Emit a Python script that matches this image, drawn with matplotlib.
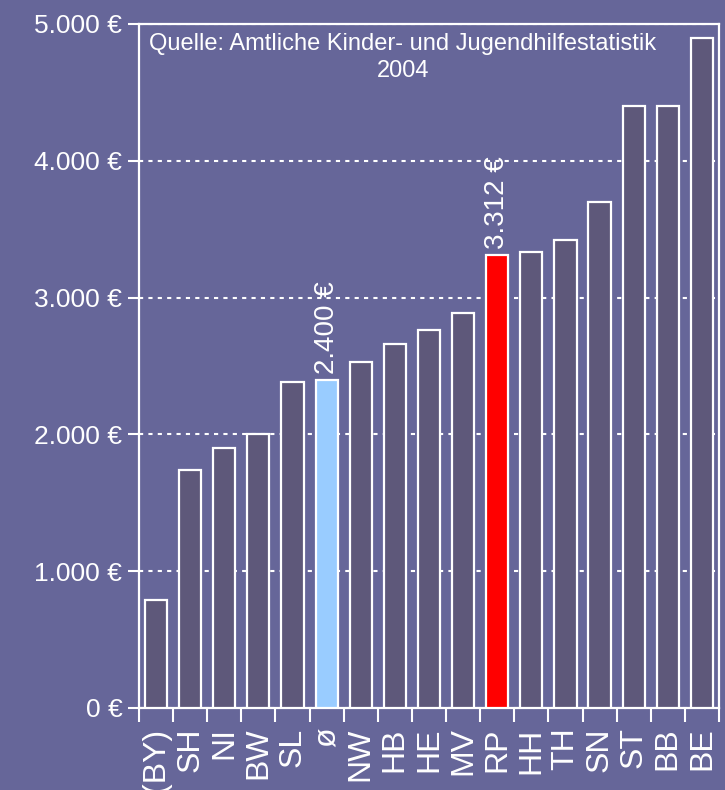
import numpy as np
import matplotlib.pyplot as plt
from matplotlib.ticker import FuncFormatter, FixedLocator

plt.rcParams['font.family'] = ['Liberation Sans', 'DejaVu Sans']

laender = ['(BY)', 'SH', 'NI', 'BW', 'SL', 'ø', 'NW', 'HB', 'HE', 'MV',
           'RP', 'HH', 'TH', 'SN', 'ST', 'BB', 'BE']
ausgaben = [790, 1740, 1900, 2000, 2380, 2400, 2530, 2660, 2760, 2890,
            3312, 3330, 3420, 3700, 4400, 4400, 4900]
markiert = {'ø': '#99ccff', 'RP': '#ff0000'}
beschriftet = {'ø': '2.400 €', 'RP': '3.312 €'}

bg = '#666699'
balken = '#5e587a'

fig = plt.figure(figsize=(7.25, 7.9), dpi=100, facecolor=bg)
ax = fig.add_axes([0.1917, 0.1038, 0.8, 0.866])
ax.set_facecolor(bg)

x = np.arange(len(laender))
farben = [markiert.get(l, balken) for l in laender]
ax.bar(x, ausgaben, width=0.65, color=farben, edgecolor='white', linewidth=1.6, zorder=3)

for i, l in enumerate(laender):
    if l in beschriftet:
        ax.text(i, ausgaben[i] + 40, beschriftet[l], rotation=90, ha='center', va='bottom',
                color='white', fontsize=20, zorder=4)

ax.set_xlim(-0.5, len(laender) - 0.5)
ax.set_ylim(0, 5000)
ax.set_yticks([0, 1000, 2000, 3000, 4000, 5000])
ax.yaxis.set_major_formatter(FuncFormatter(lambda v, p: f'{int(v):,} €'.replace(',', '.')))
ax.tick_params(axis='y', colors='white', labelsize=19, length=8, width=1.5, pad=4)

# Striche zwischen den Kategorien, Beschriftung in der Mitte
ax.xaxis.set_major_locator(FixedLocator(np.arange(-0.5, len(laender), 1.0)))
ax.xaxis.set_minor_locator(FixedLocator(x))
ax.set_xticklabels([], minor=False)
ax.set_xticklabels(laender, minor=True, rotation=90, fontsize=23, color='white')
ax.tick_params(axis='x', which='major', colors='white', length=10, width=1.5)
ax.tick_params(axis='x', which='minor', length=0, pad=14)

ax.grid(axis='y', color='white', linestyle=(0, (2, 2.5)), linewidth=1.5, zorder=1)
for s in ax.spines.values():
    s.set_color('white')
    s.set_linewidth(1.6)

ax.text(0.455, 0.987, 'Quelle: Amtliche Kinder- und Jugendhilfestatistik\n2004',
        transform=ax.transAxes, ha='center', va='top', color='white', fontsize=17,
        linespacing=1.3, zorder=5)

fig.savefig('out.png', dpi=100, facecolor=bg)
